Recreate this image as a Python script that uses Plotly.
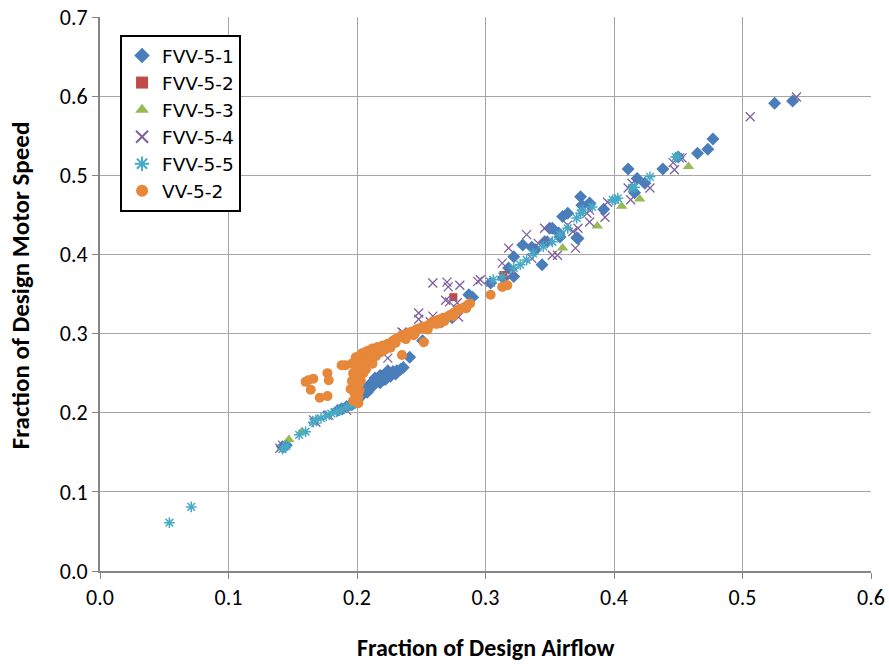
import plotly.graph_objects as go

# ---------------- data ----------------
fvv51_x = [0.142, 0.145, 0.185, 0.188, 0.192, 0.196, 0.200, 0.204, 0.207, 0.210, 0.213, 0.216,
           0.219, 0.222, 0.225, 0.228, 0.231, 0.234, 0.241, 0.251, 0.274, 0.287, 0.290, 0.304,
           0.314, 0.318, 0.322, 0.322, 0.329, 0.336, 0.339, 0.344, 0.346, 0.348, 0.350, 0.352,
           0.357, 0.358, 0.360, 0.364, 0.371, 0.372, 0.374, 0.375, 0.381, 0.381, 0.392, 0.411,
           0.416, 0.418, 0.424, 0.438, 0.450, 0.465, 0.473, 0.477, 0.525, 0.539,
           0.208, 0.212, 0.218, 0.222, 0.226, 0.230, 0.214, 0.218, 0.224, 0.236]
fvv51_y = [0.157, 0.159, 0.203, 0.205, 0.208, 0.210, 0.214, 0.222, 0.230, 0.236, 0.240, 0.243,
           0.246, 0.248, 0.250, 0.252, 0.253, 0.255, 0.270, 0.291, 0.320, 0.349, 0.346, 0.364,
           0.370, 0.383, 0.372, 0.397, 0.412, 0.409, 0.406, 0.387, 0.416, 0.416, 0.433, 0.433,
           0.427, 0.422, 0.448, 0.452, 0.421, 0.420, 0.473, 0.462, 0.465, 0.463, 0.457, 0.508,
           0.478, 0.496, 0.490, 0.508, 0.523, 0.528, 0.533, 0.546, 0.591, 0.594,
           0.226, 0.233, 0.238, 0.242, 0.246, 0.249, 0.244, 0.247, 0.253, 0.257]

fvv52_x = [0.275, 0.314]
fvv52_y = [0.346, 0.374]

fvv53_x = [0.147, 0.157, 0.360, 0.387, 0.406, 0.420, 0.458]
fvv53_y = [0.166, 0.176, 0.408, 0.436, 0.461, 0.470, 0.511]

fvv54_x = [0.140, 0.142, 0.166, 0.168, 0.177, 0.178, 0.192, 0.224, 0.235, 0.236, 0.248, 0.248,
           0.257, 0.259, 0.259, 0.269, 0.270, 0.271, 0.272, 0.278, 0.279, 0.280, 0.294, 0.296,
           0.304, 0.313, 0.318, 0.322, 0.332, 0.336, 0.341, 0.346, 0.349, 0.352, 0.356, 0.364,
           0.368, 0.370, 0.372, 0.379, 0.381, 0.381, 0.393, 0.395, 0.411, 0.413, 0.414, 0.428,
           0.446, 0.447, 0.451, 0.453, 0.506, 0.542]
fvv54_y = [0.155, 0.159, 0.191, 0.188, 0.197, 0.197, 0.203, 0.269, 0.302, 0.301, 0.326, 0.318,
           0.315, 0.322, 0.364, 0.342, 0.365, 0.359, 0.340, 0.339, 0.321, 0.361, 0.366, 0.368,
           0.365, 0.389, 0.408, 0.378, 0.425, 0.395, 0.414, 0.433, 0.416, 0.399, 0.399, 0.437,
           0.429, 0.408, 0.433, 0.452, 0.441, 0.456, 0.447, 0.466, 0.484, 0.469, 0.490, 0.484,
           0.516, 0.507, 0.522, 0.522, 0.574, 0.599]

fvv55_x = [0.054, 0.071, 0.142, 0.145, 0.155, 0.160, 0.166, 0.168, 0.172, 0.176, 0.180, 0.184,
           0.188, 0.192, 0.196, 0.200, 0.306, 0.313, 0.322, 0.327, 0.332, 0.337, 0.345, 0.352,
           0.358, 0.364, 0.371, 0.374, 0.376, 0.383, 0.399, 0.401, 0.403, 0.414, 0.416, 0.428,
           0.448, 0.450]
fvv55_y = [0.061, 0.081, 0.154, 0.158, 0.172, 0.176, 0.188, 0.191, 0.193, 0.196, 0.199, 0.201,
           0.204, 0.207, 0.210, 0.218, 0.368, 0.372, 0.383, 0.387, 0.393, 0.401, 0.410, 0.416,
           0.425, 0.433, 0.446, 0.452, 0.456, 0.460, 0.469, 0.469, 0.471, 0.484, 0.485, 0.498,
           0.523, 0.523]

vv52_x = [0.160, 0.162, 0.166, 0.164, 0.171, 0.177, 0.177, 0.178, 0.188, 0.191,
          0.195, 0.196, 0.197, 0.197, 0.198, 0.198, 0.199, 0.200, 0.200, 0.201, 0.201, 0.202,
          0.202, 0.203, 0.204, 0.204, 0.205, 0.206, 0.207, 0.208, 0.209, 0.210, 0.211, 0.212,
          0.214, 0.216, 0.218, 0.220, 0.222, 0.224, 0.226, 0.228, 0.230, 0.232, 0.234, 0.235,
          0.236, 0.238, 0.240, 0.242, 0.244, 0.246, 0.248, 0.250, 0.251, 0.252, 0.254, 0.256,
          0.258, 0.259, 0.261, 0.263, 0.265, 0.267, 0.270, 0.272, 0.275, 0.278, 0.280, 0.283,
          0.286, 0.288, 0.304, 0.313, 0.317, 0.210, 0.214, 0.218, 0.206, 0.203, 0.212, 0.222,
          0.226, 0.244, 0.262, 0.268, 0.235, 0.252, 0.201,
          0.207, 0.209, 0.212, 0.215, 0.199, 0.196, 0.220, 0.225, 0.230, 0.238, 0.245, 0.255,
          0.265, 0.275, 0.285]
vv52_y = [0.239, 0.241, 0.243, 0.229, 0.219, 0.221, 0.250, 0.241, 0.260, 0.260,
          0.230, 0.240, 0.215, 0.250, 0.225, 0.262, 0.245, 0.235, 0.255, 0.268, 0.212, 0.228,
          0.272, 0.240, 0.262, 0.275, 0.250, 0.276, 0.265, 0.278, 0.270, 0.279, 0.274, 0.281,
          0.276, 0.283, 0.280, 0.285, 0.283, 0.287, 0.288, 0.291, 0.293, 0.294, 0.296, 0.298,
          0.297, 0.299, 0.301, 0.302, 0.303, 0.305, 0.306, 0.307, 0.309, 0.307, 0.309, 0.311,
          0.312, 0.315, 0.316, 0.317, 0.318, 0.320, 0.321, 0.323, 0.326, 0.329, 0.331, 0.333,
          0.336, 0.338, 0.349, 0.359, 0.361, 0.268, 0.271, 0.276, 0.258, 0.252, 0.262, 0.280,
          0.282, 0.298, 0.312, 0.316, 0.273, 0.289, 0.220,
          0.255, 0.262, 0.268, 0.272, 0.270, 0.262, 0.278, 0.283, 0.288, 0.293, 0.300, 0.305,
          0.313, 0.322, 0.332]

x_ticks = [0.0, 0.1, 0.2, 0.3, 0.4, 0.5, 0.6]
y_ticks = [0.0, 0.1, 0.2, 0.3, 0.4, 0.5, 0.6, 0.7]

FONT = "Carlito, Lato, 'Open Sans', sans-serif"
LEGEND_FONT = "'DejaVu Sans', 'Open Sans', sans-serif"

fig = go.Figure()
fig.add_trace(go.Scatter(x=fvv51_x, y=fvv51_y, mode="markers", name="FVV-5-1",
                         marker=dict(symbol="diamond", size=10, color="#4A7EBB")))
fig.add_trace(go.Scatter(x=fvv52_x, y=fvv52_y, mode="markers", name="FVV-5-2",
                         marker=dict(symbol="square", size=8, color="#BE4B48")))
fig.add_trace(go.Scatter(x=fvv53_x, y=fvv53_y, mode="markers", name="FVV-5-3",
                         marker=dict(symbol="triangle-up", size=10, color="#98B954")))
fig.add_trace(go.Scatter(x=fvv54_x, y=fvv54_y, mode="markers", name="FVV-5-4",
                         marker=dict(symbol="x-thin-open", size=9, color="#7D60A0",
                                     line=dict(width=1.3, color="#7D60A0"))))
fig.add_trace(go.Scatter(x=fvv55_x, y=fvv55_y, mode="markers", name="FVV-5-5",
                         marker=dict(symbol="asterisk-open", size=9, color="#46AAC5",
                                     line=dict(width=1.5, color="#46AAC5"))))
fig.add_trace(go.Scatter(x=vv52_x, y=vv52_y, mode="markers", name="VV-5-2",
                         marker=dict(symbol="circle", size=10, color="#E6873A")))

axis_common = dict(
    showgrid=True, gridcolor="#A6A6A6", gridwidth=1,
    showline=True, linecolor="#868686", linewidth=2,
    ticks="outside", ticklen=6, tickcolor="#868686", tickwidth=1,
    tickfont=dict(family=FONT, size=22, color="#000000"),
    zeroline=False, automargin=False,
)

fig.update_xaxes(range=[0, 0.6], tickvals=x_ticks, tickformat=".1f", **axis_common)
fig.update_yaxes(range=[0, 0.7], tickvals=y_ticks, tickformat=".1f", **axis_common)

title_font = dict(family=FONT, size=24, color="#000000")
fig.add_annotation(text="<b>Fraction of Design Airflow</b>", xref="paper", yref="paper",
                   x=0.5, y=-0.138, xanchor="center", yanchor="middle",
                   showarrow=False, font=title_font)
fig.add_annotation(text="<b>Fraction of Design Motor Speed</b>", xref="paper", yref="paper",
                   x=-0.103, y=0.515, xanchor="center", yanchor="middle", textangle=-90,
                   showarrow=False, font=dict(family=FONT, size=25, color="#000000"))

fig.update_layout(
    width=889, height=665,
    margin=dict(l=100, r=18, t=17, b=94),
    paper_bgcolor="white", plot_bgcolor="white",
    font=dict(family=FONT, size=21, color="#000000"),
    showlegend=True,
    legend=dict(x=0.026, y=0.9675, xanchor="left", yanchor="top",
                bgcolor="white", bordercolor="#000000", borderwidth=2,
                font=dict(family=LEGEND_FONT, size=18.5, color="#000000"),
                itemsizing="constant", tracegroupgap=0),
)

fig.write_html("out.html")
